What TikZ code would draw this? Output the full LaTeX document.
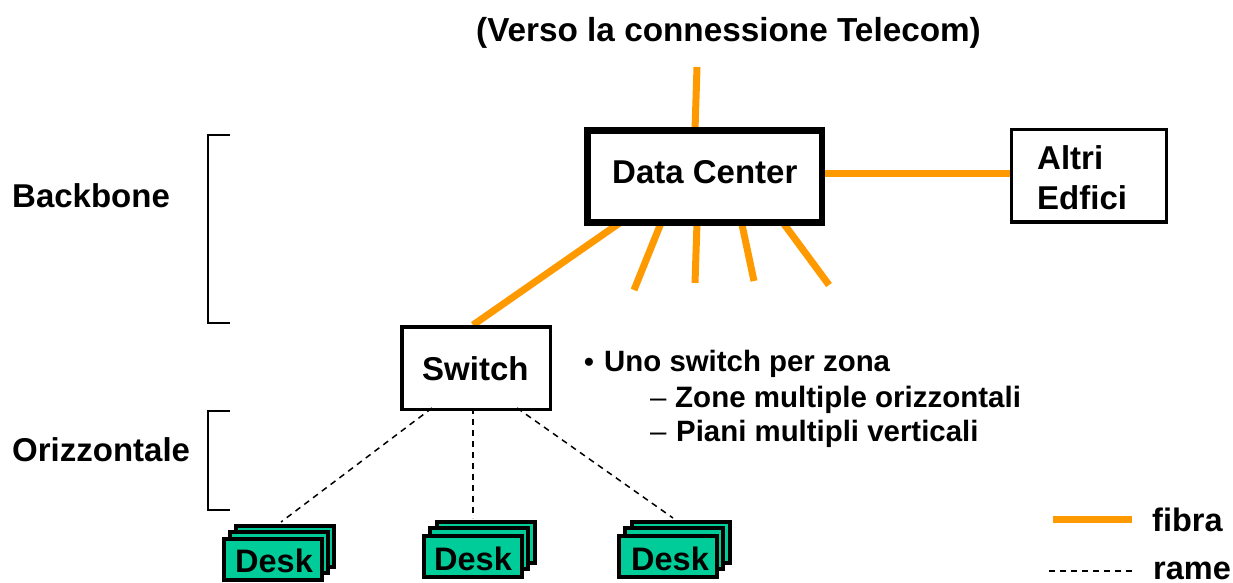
\documentclass[tikz,border=0pt]{standalone}
\usepackage{fontspec}
\setmainfont{Liberation Sans}
\definecolor{fibc}{HTML}{FF9900}
\definecolor{deskc}{HTML}{00CC99}
\newcommand{\lbl}[1]{\fontsize{#1}{#1}\selectfont\bfseries}
\newcommand{\lbr}[1]{\fontsize{#1}{#1}\selectfont}
\tikzset{
  x=1pt,y=-1pt,
  fibra/.style={draw=fibc,line width=7pt},
  rame/.style={draw=black,line width=1.5pt,dash pattern=on 6pt off 5pt},
  brk/.style={draw=black,line width=1.4pt},
  txt/.style={inner sep=0pt,anchor=base west,text=black},
  boxn/.style={draw=black,line width=3.5pt,fill=white,inner sep=0pt,anchor=north west},
  deskn/.style={draw=black,line width=3.5pt,fill=deskc,inner sep=0pt,anchor=north west,minimum width=98pt,minimum height=41pt},
}
\begin{document}
\begin{tikzpicture}
\useasboundingbox (0,0) rectangle (1233,582);
% free ends
\coordinate (top) at (697,67);
\coordinate (r1) at (634,290);
\coordinate (r2) at (695,283);
\coordinate (r3) at (754,281);
\coordinate (r4) at (829,285);
\coordinate (d1a) at (661,223);
\coordinate (d2a) at (697,223);
\coordinate (d3a) at (741,220);
\coordinate (d4a) at (784,224);
\coordinate (sw1) at (432,408);
\coordinate (sw2) at (473,408);
\coordinate (sw3) at (517,408);
\coordinate (sl) at (473,325);
\coordinate (dl) at (621,222);
\coordinate (dt) at (695,130);
\coordinate (dr) at (823,173);
\coordinate (ar) at (1011,173);
\coordinate (e1) at (281,522);
\coordinate (e2) at (473,518);
\coordinate (e3) at (673,518);
% fibres behind box
\draw[fibra] (top) -- (dt);
\draw[fibra] (dl) -- (sl);
\draw[fibra] (d1a) -- (r1);
\draw[fibra] (d2a) -- (r2);
\draw[fibra] (d3a) -- (r3);
\draw[fibra] (d4a) -- (r4);
\draw[fibra] (dr) -- (ar);
% boxes
\node[boxn,line width=6.5pt,minimum width=234.5pt,minimum height=92pt] (dc) at (584,127) {};
\node[txt] (dct) at (612,183) {\lbl{33}Data Center};
\node[boxn,minimum width=155pt,minimum height=92.5pt] (altri) at (1009.5,127.5) {};
\node[txt] (al1) at (1037,169) {\lbl{33}Altri};
\node[txt] (al2) at (1037,209) {\lbl{33}Edfici};
\node[boxn,minimum width=148.5pt,minimum height=82.5pt] (sw) at (400,325) {};
\node[txt] (swt) at (422,380) {\lbl{33}Switch};
% title
\node[txt] (title) at (476,41) {\lbl{33.3}(Verso la connessione Telecom)};
% left labels
\node[txt] (bb) at (12,207) {\lbl{33}Backbone};
\node[txt] (oz) at (12,461) {\lbl{33}Orizzontale};
\coordinate (b1a) at (230,135);
\coordinate (b1b) at (208,135);
\coordinate (b1c) at (208,323);
\coordinate (b1d) at (230,323);
\coordinate (b2a) at (230,411);
\coordinate (b2b) at (208,411);
\coordinate (b2c) at (208,510);
\coordinate (b2d) at (230,510);
\draw[brk] (b1a) -- (b1b) -- (b1c) -- (b1d);
\draw[brk] (b2a) -- (b2b) -- (b2c) -- (b2d);
% copper
\draw[rame] (sw1) -- (e1);
\draw[rame] (sw2) -- (e2);
\draw[rame] (sw3) -- (e3);
% desks
\node[deskn] (a3) at (234,524) {};
\node[deskn] (a2) at (228,530) {};
\node[deskn] (a1) at (222,537) {};
\node[txt] (at) at (235,572) {\lbl{32.5}Desk};
\node[deskn] (b3) at (435,520) {};
\node[deskn] (b2) at (428,526) {};
\node[deskn] (b1) at (422,534) {};
\node[txt] (bt) at (434,570) {\lbl{32.5}Desk};
\node[deskn] (c3) at (630,520) {};
\node[deskn] (c2) at (623,526) {};
\node[deskn] (c1) at (617,534) {};
\node[txt] (ct) at (631,570) {\lbl{32.5}Desk};
% bullets
\node[txt] (l1) at (584,371) {\lbl{28}\textbullet};
\node[txt] (l1b) at (604,371) {\lbl{29.4}Uno switch per zona};
\node[txt] (l2) at (650,407) {\lbr{29.4}–};
\node[txt] (l2b) at (675,407) {\lbl{29.5}Zone multiple orizzontali};
\node[txt] (l3) at (650,441) {\lbr{29.4}–};
\node[txt] (l3b) at (676,441) {\lbl{29.4}Piani multipli verticali};
% legend
\coordinate (f1) at (1053,519);
\coordinate (f2) at (1132,519);
\coordinate (c1e) at (1049,571);
\coordinate (c2e) at (1133,571);
\draw[fibra] (f1) -- (f2);
\draw[rame,line width=1.2pt] (c1e) -- (c2e);
\node[txt] (lf) at (1152,531) {\lbl{32.5}fibra};
\node[txt] (lr) at (1153,579) {\lbl{32.5}rame};
\end{tikzpicture}
\end{document}
